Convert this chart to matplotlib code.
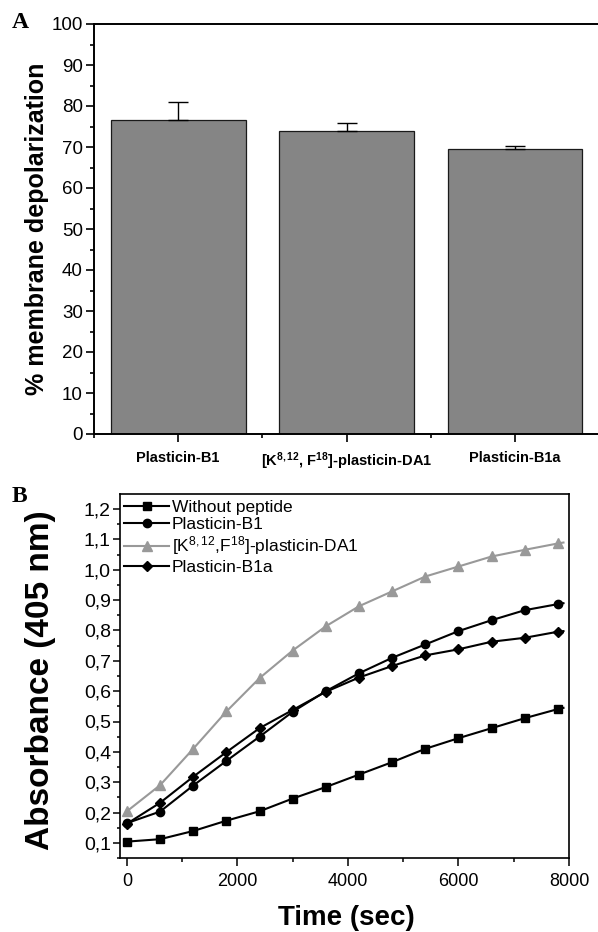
import matplotlib
matplotlib.use("Agg")
import matplotlib.pyplot as plt
from matplotlib.ticker import MultipleLocator, FixedLocator, FuncFormatter

plt.rcParams['font.family'] = ['Liberation Sans', 'DejaVu Sans']
plt.rcParams['mathtext.fontset'] = 'custom'
plt.rcParams['mathtext.rm'] = 'Liberation Sans'
plt.rcParams['mathtext.it'] = 'Liberation Sans:italic'
plt.rcParams['mathtext.bf'] = 'Liberation Sans:bold'

# ---- Panel A data ----
bar_labels = ['Plasticin-B1',
              r'[K$^{\mathbf{8,12}}$, F$^{\mathbf{18}}$]-plasticin-DA1',
              'Plasticin-B1a']
bar_values = [76.5, 73.8, 69.5]
bar_errors = [4.5, 2.0, 0.7]

# ---- Panel B data ----
time_s = [0, 600, 1200, 1800, 2400, 3000, 3600, 4200, 4800, 5400, 6000, 6600, 7200, 7800, 7900]
without_peptide = [0.104, 0.112, 0.139, 0.173, 0.204, 0.246, 0.284, 0.325, 0.366, 0.410, 0.445, 0.478, 0.511, 0.541, 0.545]
plasticin_b1 = [0.165, 0.203, 0.289, 0.370, 0.450, 0.532, 0.600, 0.659, 0.710, 0.754, 0.798, 0.834, 0.867, 0.887, 0.890]
k_plasticin_da1 = [0.204, 0.290, 0.410, 0.533, 0.643, 0.734, 0.814, 0.880, 0.929, 0.978, 1.011, 1.044, 1.066, 1.087, 1.090]
plasticin_b1a = [0.163, 0.232, 0.318, 0.399, 0.478, 0.538, 0.598, 0.645, 0.683, 0.718, 0.738, 0.763, 0.776, 0.796, 0.798]
series_labels = ['Without peptide', 'Plasticin-B1',
                 r'[K$^{8,12}$,F$^{18}$]-plasticin-DA1', 'Plasticin-B1a']

W, H = 598, 932
fig = plt.figure(figsize=(W / 100, H / 100), dpi=100)

# ================= Panel A =================
axA = fig.add_axes([94 / W, 1 - 434 / H, (599 - 94) / W, (434 - 24) / H])
pos = list(range(1, len(bar_values) + 1))
axA.bar(pos, bar_values, width=0.8, color='#858585', edgecolor='#1a1a1a', linewidth=0.9, zorder=2)
axA.errorbar(pos, bar_values, yerr=[[0] * 3, bar_errors], fmt='none', ecolor='black',
             elinewidth=1.0, capsize=7, capthick=1.0, zorder=3)
axA.set_xlim(0.5, 3.5)
axA.set_ylim(0, 100)
axA.yaxis.set_major_locator(MultipleLocator(10))
axA.yaxis.set_minor_locator(MultipleLocator(5))
axA.xaxis.set_major_locator(FixedLocator(pos))
axA.xaxis.set_minor_locator(FixedLocator([0.5, 1.5, 2.5, 3.5]))
axA.set_xticklabels(bar_labels, fontsize=10.5, fontweight='bold')
for sp in axA.spines.values():
    sp.set_linewidth(1.4)
axA.spines['right'].set_visible(False)
axA.tick_params(axis='y', which='major', direction='out', length=6, width=1.2, labelsize=13.5, pad=2)
axA.tick_params(axis='y', which='minor', direction='out', length=3, width=1.2)
axA.tick_params(axis='x', which='major', direction='out', length=6, width=1.2, pad=6)
axA.tick_params(axis='x', which='minor', direction='out', length=3, width=1.2)
fig.text(37 / W, 1 - 229 / H, '% membrane depolarization', rotation=90, ha='center', va='center',
         fontsize=18, fontweight='bold')
fig.text(20 / W, 1 - 23 / H, 'A', ha='center', va='center', fontsize=17, fontweight='bold',
         family='Liberation Serif')

# ================= Panel B =================
axB = fig.add_axes([120 / W, 1 - 858 / H, (569 - 120) / W, (858 - 494) / H])
ms = dict(markevery=list(range(14)))
axB.plot(time_s, without_peptide, color='black', lw=1.5, marker='s', ms=5.5, label=series_labels[0], **ms)
axB.plot(time_s, plasticin_b1, color='black', lw=1.5, marker='o', ms=6, label=series_labels[1], **ms)
axB.plot(time_s, k_plasticin_da1, color='#999999', lw=1.5, marker='^', ms=6.5, label=series_labels[2], **ms)
axB.plot(time_s, plasticin_b1a, color='black', lw=1.5, marker='D', ms=5, label=series_labels[3], **ms)
axB.set_xlim(-125, 8000)
axB.set_ylim(0.05, 1.25)
axB.xaxis.set_major_locator(MultipleLocator(2000))
axB.xaxis.set_minor_locator(MultipleLocator(1000))
axB.yaxis.set_major_locator(FixedLocator([0.1 * i for i in range(1, 13)]))
axB.yaxis.set_minor_locator(FixedLocator([0.05 + 0.1 * i for i in range(0, 12)]))
axB.yaxis.set_major_formatter(FuncFormatter(lambda v, p: f'{v:.1f}'.replace('.', ',')))
for sp in axB.spines.values():
    sp.set_linewidth(1.2)
axB.tick_params(axis='y', which='major', direction='out', length=5, width=1.1, labelsize=14, pad=1.5)
axB.tick_params(axis='y', which='minor', direction='out', length=2.5, width=1.1)
axB.tick_params(axis='x', which='major', direction='out', length=5.5, width=1.1, labelsize=13, pad=5)
axB.tick_params(axis='x', which='minor', direction='out', length=3, width=1.1)
leg = axB.legend(loc='upper left', bbox_to_anchor=(4 / 449, 1 - 6 / 364), frameon=False,
                 fontsize=12.5, borderaxespad=0, borderpad=0, handlelength=2.6,
                 handletextpad=0.15, labelspacing=0.12)
fig.text(41 / W, 1 - 680 / H, 'Absorbance (405 nm)', rotation=90, ha='center', va='center',
         fontsize=24, fontweight='bold')
fig.text(346 / W, 1 - 918 / H, 'Time (sec)', ha='center', va='center', fontsize=20, fontweight='bold')
fig.text(19 / W, 1 - 497 / H, 'B', ha='center', va='center', fontsize=17, fontweight='bold',
         family='Liberation Serif')

fig.savefig('out.png', dpi=100)
